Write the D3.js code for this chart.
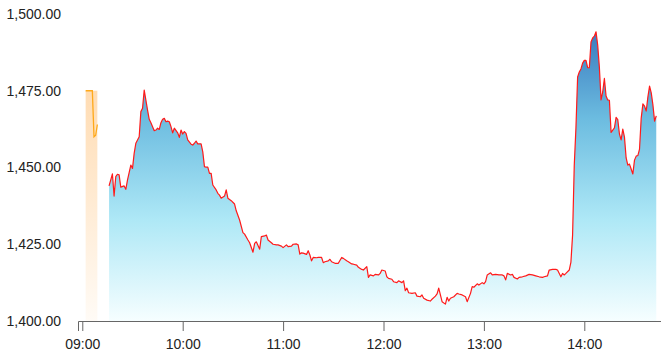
<!DOCTYPE html>
<html>
<head>
<meta charset="utf-8">
<script src="https://cdnjs.cloudflare.com/ajax/libs/d3/7.8.5/d3.min.js"></script>
<style>
body { margin: 0; background: #fff; }
.axis text { font-family: "Liberation Sans", Arial, sans-serif; font-size: 14px; fill: #222; }
.axis path, .axis line { stroke: #666; }
</style>
</head>
<body>
<svg id="chart" width="661" height="364"></svg>
<script>
// pre-market (auction) points
var preTimes = ["09:02", "09:03", "09:04", "09:05", "09:06", "09:07", "09:08", "09:09"];
var preValues = [1475, 1475, 1475, 1475, 1475, 1460, 1460.5, 1464];

// session points
var times = [
"09:16","09:18","09:19","09:20","09:21","09:22","09:23","09:25","09:26","09:27",
"09:29","09:30","09:31","09:32","09:34","09:35","09:36","09:37","09:39","09:40",
"09:41","09:43","09:44","09:45","09:46","09:47","09:48","09:49","09:50","09:51",
"09:52","09:53","09:54","09:55","09:57","09:58","09:59","10:00","10:01","10:02",
"10:03","10:05","10:06","10:07","10:08","10:09","10:11","10:12","10:13","10:14",
"10:15","10:16","10:17","10:18","10:20","10:21","10:22","10:23","10:25","10:26",
"10:27","10:29","10:31","10:32","10:34","10:36","10:37","10:39","10:40","10:42",
"10:43","10:44","10:46","10:47","10:49","10:50","10:51","10:53","10:54","10:56",
"10:57","10:59","11:00","11:02","11:03","11:05","11:06","11:08","11:09","11:10",
"11:11","11:12","11:14","11:15","11:16","11:17","11:18","11:20","11:21","11:23",
"11:24","11:25","11:27","11:28","11:29","11:31","11:33","11:35","11:36","11:38",
"11:39","11:41","11:42","11:44","11:45","11:47","11:48","11:50","11:51","11:52",
"11:54","11:55","11:57","11:58","11:59","12:01","12:02","12:03","12:05","12:06",
"12:08","12:09","12:11","12:12","12:13","12:14","12:15","12:17","12:19","12:20",
"12:22","12:23","12:24","12:26","12:28","12:29","12:31","12:32","12:33","12:34",
"12:35","12:37","12:38","12:39","12:40","12:42","12:44","12:45","12:47","12:49",
"12:50","12:52","12:53","12:54","12:56","12:57","12:59","13:00","13:01","13:02",
"13:04","13:05","13:07","13:09","13:11","13:12","13:13","13:14","13:16","13:17",
"13:18","13:20","13:21","13:23","13:25","13:27","13:29","13:31","13:33","13:35",
"13:36","13:38","13:39","13:41","13:43","13:44","13:46","13:47","13:48","13:49",
"13:51","13:52","13:53","13:54","13:55","13:56","13:57","13:58","13:59","14:00",
"14:01","14:02","14:03","14:04","14:05","14:06","14:07","14:08","14:09","14:10",
"14:11","14:12","14:13","14:14","14:15","14:16","14:17","14:18","14:19","14:20",
"14:21","14:22","14:23","14:24","14:25","14:26","14:27","14:28","14:29","14:30",
"14:31","14:32","14:33","14:34","14:35","14:36","14:37","14:38","14:39","14:40",
"14:41","14:42","14:43"];
var values = [
1444.0,1447.9,1440.7,1447.0,1447.8,1447.6,1443.6,1444.0,1442.9,1445.9,
1450.8,1449.7,1454.6,1457.9,1460.0,1468.2,1469.3,1475.2,1468.7,1465.7,
1464.6,1462.0,1462.2,1462.8,1462.4,1464.6,1465.7,1466.0,1464.9,1465.1,
1464.9,1463.3,1461.3,1462.8,1461.3,1459.8,1462.2,1460.9,1461.7,1461.1,
1459.0,1457.6,1457.3,1457.9,1458.6,1457.7,1457.7,1455.1,1450.3,1450.1,
1450.1,1448.1,1448.1,1444.3,1442.7,1441.6,1441.0,1440.0,1440.7,1442.7,
1440.0,1439.2,1438.1,1435.9,1432.9,1428.8,1428.3,1426.4,1425.5,1422.4,
1425.3,1425.8,1423.4,1427.5,1427.7,1428.0,1426.4,1425.5,1425.0,1424.8,
1424.8,1424.4,1423.9,1424.8,1424.2,1424.4,1425.0,1425.1,1424.8,1421.8,
1422.2,1422.1,1421.7,1422.9,1421.5,1419.6,1420.7,1420.6,1420.7,1420.7,
1419.0,1419.3,1419.6,1420.1,1419.3,1418.8,1418.8,1420.7,1420.4,1419.6,
1419.3,1418.6,1418.5,1418.2,1417.5,1416.8,1416.6,1417.7,1414.2,1415.0,
1414.7,1415.2,1415.0,1415.5,1416.6,1416.3,1414.4,1413.9,1413.6,1412.8,
1412.5,1413.1,1412.5,1413.1,1409.9,1410.7,1409.2,1409.0,1409.2,1408.1,
1407.9,1408.5,1407.4,1406.8,1406.5,1407.1,1408.1,1408.8,1410.7,1408.5,
1406.3,1405.5,1407.7,1406.5,1407.4,1407.9,1409.0,1408.8,1408.5,1407.9,
1406.3,1409.0,1411.2,1411.0,1412.1,1411.7,1412.5,1412.1,1412.8,1415.0,
1415.7,1415.0,1415.2,1415.0,1415.0,1414.7,1413.4,1415.5,1415.0,1415.2,
1414.2,1413.7,1414.2,1414.4,1414.7,1415.2,1415.0,1414.7,1414.4,1414.2,
1414.4,1414.7,1416.6,1416.8,1416.8,1416.6,1414.4,1415.5,1415.0,1415.5,
1416.6,1419.2,1428.0,1450.8,1462.9,1479.5,1481.1,1482.1,1484.0,1484.9,
1484.9,1482.5,1482.5,1490.9,1492.2,1492.8,1494.2,1489.9,1482.7,1472.0,
1474.6,1479.0,1473.3,1472.0,1471.9,1461.4,1462.2,1462.9,1466.3,1465.6,
1460.9,1459.0,1462.5,1459.9,1453.1,1450.8,1451.1,1449.5,1447.9,1452.4,
1453.7,1453.9,1456.0,1466.1,1470.7,1470.0,1468.4,1473.0,1476.5,1474.3,
1470.4,1465.1,1466.8];

var xStart = "08:57:26", xEnd = "14:45:50";
var yTicks = [1400, 1425, 1450, 1475, 1500];

var svg = d3.select("#chart"),
    margin = {top: 14, right: 0, bottom: 43, left: 78},
    width = +svg.attr("width") - margin.left - margin.right,
    height = +svg.attr("height") - margin.top - margin.bottom,
    g = svg.append("g").attr("transform", "translate(" + margin.left + "," + margin.top + ")");

var parse = d3.timeParse("%H:%M");
var parseSec = d3.timeParse("%H:%M:%S");
var data = times.map(function(t, i) { return {t: parse(t), v: values[i]}; });
var pre = preTimes.map(function(t, i) { return {t: parse(t), v: preValues[i]}; });

var x = d3.scaleTime()
    .domain([parseSec(xStart), parseSec(xEnd)])
    .range([0, width]);
var y = d3.scaleLinear()
    .domain([1400, 1500])
    .range([height, 0]);

var defs = svg.append("defs");
var blue = defs.append("linearGradient")
    .attr("id", "blueFill")
    .attr("gradientUnits", "userSpaceOnUse")
    .attr("x1", 0).attr("x2", 0)
    .attr("y1", y(d3.max(values))).attr("y2", y(1400));
blue.append("stop").attr("offset", "0").attr("stop-color", "#3a7bbf");
blue.append("stop").attr("offset", "0.3").attr("stop-color", "#6cbce0");
blue.append("stop").attr("offset", "0.65").attr("stop-color", "#aee8f6");
blue.append("stop").attr("offset", "1").attr("stop-color", "#f6feff");

var orange = defs.append("linearGradient")
    .attr("id", "orangeFill")
    .attr("gradientUnits", "userSpaceOnUse")
    .attr("x1", 0).attr("x2", 0)
    .attr("y1", y(d3.max(preValues))).attr("y2", y(1400));
orange.append("stop").attr("offset", "0").attr("stop-color", "#ffdcb3");
orange.append("stop").attr("offset", "1").attr("stop-color", "#fffbf6");

// pre-market block
var preTop = d3.max(preValues);
g.append("path")
    .datum(pre)
    .attr("fill", "url(#orangeFill)")
    .attr("d", d3.area()
        .x(function(d) { return x(d.t); })
        .y0(y(1400))
        .y1(function(d) { return y(preTop); }));

g.append("path")
    .datum(pre)
    .attr("fill", "none")
    .attr("stroke", "#ffa91a")
    .attr("stroke-width", 1.3)
    .attr("d", d3.line()
        .x(function(d) { return x(d.t); })
        .y(function(d) { return y(d.v); }));

// session area + line
g.append("path")
    .datum(data)
    .attr("fill", "url(#blueFill)")
    .attr("d", d3.area()
        .x(function(d) { return x(d.t); })
        .y0(y(1400))
        .y1(function(d) { return y(d.v); }));

g.append("path")
    .datum(data)
    .attr("fill", "none")
    .attr("stroke", "#ff1a1a")
    .attr("stroke-width", 1.2)
    .attr("stroke-linejoin", "round")
    .attr("d", d3.line()
        .x(function(d) { return x(d.t); })
        .y(function(d) { return y(d.v); }));

g.append("g")
    .attr("class", "axis axis--x")
    .attr("transform", "translate(0," + height + ")")
    .call(d3.axisBottom(x)
        .ticks(d3.timeHour.every(1))
        .tickFormat(d3.timeFormat("%H:%M"))
        .tickSizeOuter(0)
        .tickSize(10)
        .tickPadding(8));

var yAxis = g.append("g")
    .attr("class", "axis axis--y")
    .call(d3.axisLeft(y)
        .tickValues(yTicks)
        .tickFormat(d3.format(",.2f"))
        .tickSize(0)
        .tickPadding(17));
yAxis.select(".domain").remove();
</script>
</body>
</html>
